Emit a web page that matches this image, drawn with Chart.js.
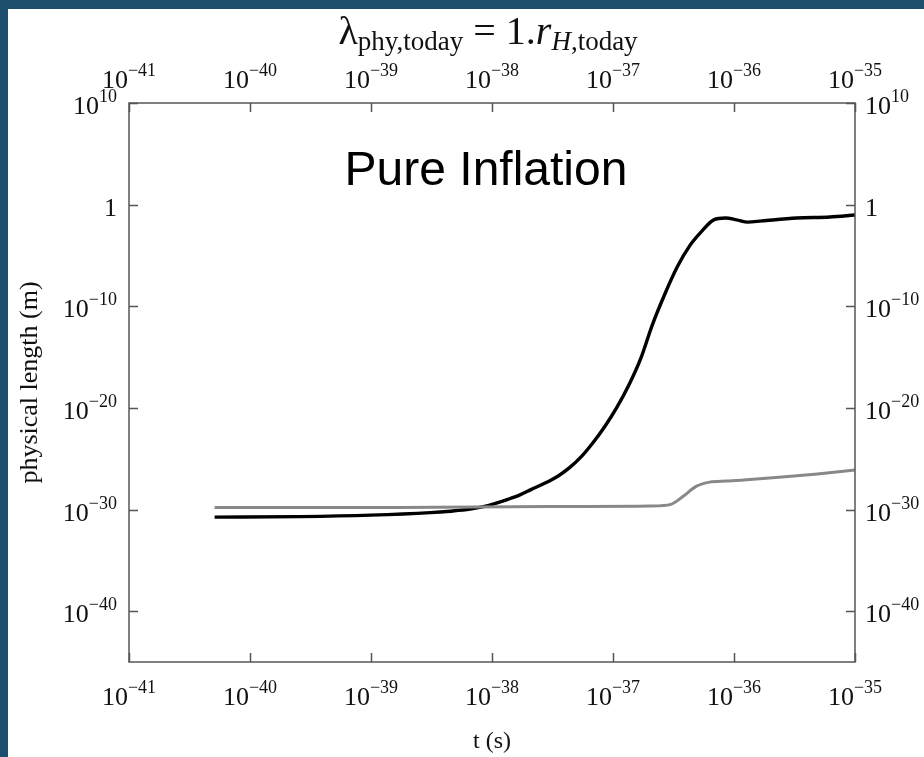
<!DOCTYPE html>
<html>
<head>
<meta charset="utf-8">
<script src="https://cdn.jsdelivr.net/npm/chart.js@4.4.1/dist/chart.umd.min.js"></script>
<style>
  html, body { margin: 0; padding: 0; background: #1c4f6e; }
  #chart { display: block; }
</style>
</head>
<body>
<canvas id="chart" width="924" height="757"></canvas>
<script>
// black curve: physical length of the mode (m) vs time (s)
const blackTime = [5.1e-41, 2.6e-40, 1e-39, 3.1e-39, 4.5e-39, 6.6e-39, 8.5e-39,
    1.07e-38, 1.35e-38, 1.7e-38, 2.1e-38, 2.75e-38, 3.5e-38, 4.4e-38, 5.5e-38, 6.8e-38, 8.5e-38,
    1.07e-37, 1.35e-37, 1.7e-37, 2.1e-37, 2.7e-37, 3.4e-37, 4.3e-37, 5.4e-37, 6.8e-37, 8.5e-37,
    1.05e-36, 1.3e-36, 1.7e-36, 3.3e-36, 6.2e-36, 1e-35];
const blackLength = [1.8e-31, 2.0e-31, 2.8e-31, 5.0e-31, 6.9e-31, 1.1e-30, 1.9e-30,
    4.0e-30, 1.0e-29, 2.8e-29, 9.1e-29, 4.0e-28, 1.9e-27, 1.4e-26, 1.7e-25, 3.5e-24, 1.3e-22,
    1.0e-20, 1.7e-18, 7.9e-16, 1.2e-12, 1.9e-9, 7.6e-7, 8.7e-5, 2.3e-3, 3.2e-2, 4.8e-2,
    3.2e-2, 1.9e-2, 2.5e-2, 4.8e-2, 6.0e-2, 9.5e-2];

// gray curve: Hubble radius vs time
const grayTime = [5.1e-41, 1.7e-39, 3.0e-38, 2.0e-37, 3.0e-37, 3.8e-37, 4.9e-37, 6.3e-37, 8.7e-37, 1.2e-36, 2.5e-36, 4.9e-36, 1e-35];
const grayLength = [1.6e-30, 1.6e-30, 2.0e-30, 2.2e-30, 3.2e-30, 2.0e-29, 2.0e-28, 5.0e-28, 6.3e-28, 7.9e-28, 1.6e-27, 3.2e-27, 7.9e-27];

// axis ticks
const xTicks = [1e-41, 1e-40, 1e-39, 1e-38, 1e-37, 1e-36, 1e-35];
const xTickLabels = ["10^−41", "10^−40", "10^−39", "10^−38", "10^−37", "10^−36", "10^−35"];
const yTicks = [1e10, 1, 1e-10, 1e-20, 1e-30, 1e-40];
const yTickLabels = ["10^10", "1", "10^−10", "10^−20", "10^−30", "10^−40"];

const SERIF = "'Liberation Serif', 'Times New Roman', serif";

// draw a list of text runs (with baseline shifts) starting/centred at x
function drawRuns(ctx, runs, x, y, align) {
    let total = 0;
    runs.forEach(r => { ctx.font = r.font; r.w = ctx.measureText(r.text).width; total += r.w; });
    let cx = align === "center" ? x - total / 2 : align === "right" ? x - total : x;
    ctx.textAlign = "left";
    ctx.textBaseline = "alphabetic";
    runs.forEach(r => {
        ctx.font = r.font;
        ctx.fillText(r.text, cx, y + (r.dy || 0));
        cx += r.w;
    });
}

function powerRuns(label) {
    const parts = label.split("^");
    const runs = [{ text: parts[0], font: "26px " + SERIF }];
    if (parts[1]) runs.push({ text: parts[1], font: "18px " + SERIF, dy: -12 });
    return runs;
}

const framePlugin = {
    id: "frame",
    beforeDraw(chart) {
        const ctx = chart.ctx;
        ctx.save();
        ctx.fillStyle = "#1c4f6e";
        ctx.fillRect(0, 0, chart.width, chart.height);
        ctx.fillStyle = "#ffffff";
        ctx.fillRect(8, 9, chart.width - 8, chart.height - 9);
        ctx.restore();
    },
    afterDraw(chart) {
        const ctx = chart.ctx;
        const a = chart.chartArea;
        const xs = chart.scales.x, ys = chart.scales.y;
        ctx.save();
        ctx.strokeStyle = "#555555";
        ctx.lineWidth = 1.5;
        ctx.strokeRect(a.left, a.top, a.right - a.left, a.bottom - a.top);

        // inward tick marks
        ctx.beginPath();
        xTicks.forEach(v => {
            const px = Math.round(xs.getPixelForValue(v)) + 0.5;
            ctx.moveTo(px, a.top); ctx.lineTo(px, a.top + 9);
            ctx.moveTo(px, a.bottom); ctx.lineTo(px, a.bottom - 9);
        });
        yTicks.forEach(v => {
            const py = Math.round(ys.getPixelForValue(v)) + 0.5;
            ctx.moveTo(a.left, py); ctx.lineTo(a.left + 9, py);
            ctx.moveTo(a.right, py); ctx.lineTo(a.right - 9, py);
        });
        ctx.stroke();

        ctx.fillStyle = "#111111";
        xTicks.forEach((v, i) => {
            const px = xs.getPixelForValue(v);
            drawRuns(ctx, powerRuns(xTickLabels[i]), px, a.top - 15, "center");
            drawRuns(ctx, powerRuns(xTickLabels[i]), px, a.bottom + 43, "center");
        });
        yTicks.forEach((v, i) => {
            const py = ys.getPixelForValue(v);
            drawRuns(ctx, powerRuns(yTickLabels[i]), a.left - 12, py + 11, "right");
            drawRuns(ctx, powerRuns(yTickLabels[i]), a.right + 10, py + 11, "left");
        });

        // top title
        drawRuns(ctx, [
            { text: "λ", font: "40px " + SERIF },
            { text: "phy,today", font: "27px " + SERIF, dy: 6 },
            { text: " = 1.", font: "40px " + SERIF },
            { text: "r", font: "italic 40px " + SERIF },
            { text: "H", font: "italic 27px " + SERIF, dy: 6 },
            { text: ",today", font: "27px " + SERIF, dy: 6 }
        ], 488, 44, "center");

        // axis titles
        ctx.font = "24px " + SERIF;
        ctx.textAlign = "center";
        ctx.fillText("t (s)", (a.left + a.right) / 2, 748);
        ctx.save();
        ctx.translate(37, (a.top + a.bottom) / 2);
        ctx.rotate(-Math.PI / 2);
        ctx.font = "26px " + SERIF;
        ctx.fillText("physical length (m)", 0, 0);
        ctx.restore();

        // panel title
        ctx.font = "48px 'Liberation Sans', Arial, sans-serif";
        ctx.fillStyle = "#000000";
        ctx.fillText("Pure Inflation", 486, 185);
        ctx.restore();
    }
};

new Chart(document.getElementById("chart"), {
    type: "line",
    data: {
        datasets: [
            {
                label: "gray",
                data: grayTime.map((t, i) => ({ x: t, y: grayLength[i] })),
                borderColor: "#888888",
                borderWidth: 3,
                tension: 0.3,
                pointRadius: 0
            },
            {
                label: "black",
                data: blackTime.map((t, i) => ({ x: t, y: blackLength[i] })),
                borderColor: "#000000",
                borderWidth: 3.4,
                cubicInterpolationMode: "monotone",
                pointRadius: 0
            }
        ]
    },
    options: {
        responsive: false,
        animation: false,
        layout: { padding: { left: 129, top: 103, right: 69, bottom: 95 } },
        plugins: { legend: { display: false }, tooltip: { enabled: false } },
        scales: {
            x: { type: "logarithmic", min: 1e-41, max: 1e-35, display: false },
            y: { type: "logarithmic", min: 1e-45, max: 1e10, display: false }
        }
    },
    plugins: [framePlugin]
});
</script>
</body>
</html>
